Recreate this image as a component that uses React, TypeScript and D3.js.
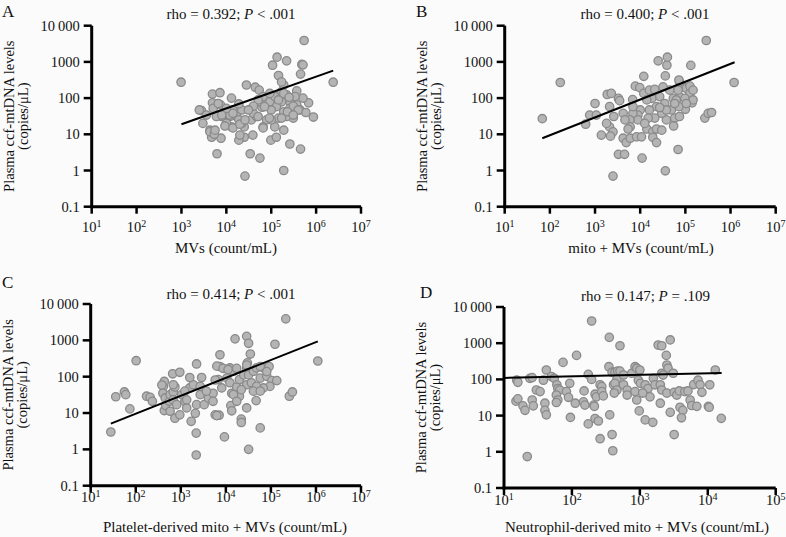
import React from "react";
import * as d3 from "d3";

// ---------- DATA ----------
const yTickValues = [0.1, 1, 10, 100, 1000, 10000];
const yTickLabels = ["0.1", "1", "10", "100", "1000", "10\u2009000"];
const xExponentsWide = [1, 2, 3, 4, 5, 6, 7];
const xExponentsNarrow = [1, 2, 3, 4, 5];

const panelLetters = ["A", "B", "C", "D"];
const titleRhos = ["0.392", "0.400", "0.414", "0.147"];
const titlePs = ["< .001", "< .001", "< .001", "= .109"];
const xAxisTitles = [
  "MVs (count/mL)",
  "mito + MVs (count/mL)",
  "Platelet-derived mito + MVs (count/mL)",
  "Neutrophil-derived mito + MVs (count/mL)",
];
const yAxisTitleLines = ["Plasma ccf-mtDNA levels", "(copies/\u03BCL)"];

// [count/mL, copies/uL]
const mvsPoints = [
  [980, 275], [5.4e5, 3900], [1.35e5, 1350], [2.2e5, 1070], [1.07e5, 810], [4.8e5, 850], [5.1e5, 830], [1.45e5, 420], [4.5e5, 460], [2.4e6, 275],
  [2.8e4, 230], [4.4e4, 200], [5.4e4, 166], [4.9e3, 129], [7.2e3, 141], [1.3e4, 100], [2.8e3, 45], [3.0e3, 20], [4.9e3, 74], [5.1e3, 52],
  [7.4e3, 65], [7.9e3, 31], [6.0e3, 31], [4.3e3, 13], [5.2e3, 9.5], [4.7e3, 8.3], [7.6e3, 7.8], [6.2e3, 2.9], [3.4e4, 2.9], [5.6e4, 2.2],
  [1.9e5, 1.0], [9.8e4, 6.9], [1.3e5, 8.3], [2.6e5, 5.4], [4.5e5, 3.9], [8.7e5, 30], [6.8e5, 74], [5.1e5, 100], [3.7e5, 158], [2.8e5, 100],
  [4.4e5, 47], [5.9e5, 40], [3.1e5, 28], [1.9e5, 13], [1.2e5, 16], [7.9e4, 25], [6.6e4, 16], [3.9e4, 9.5], [2.5e4, 8.3], [1.9e4, 6.9],
  [2.0e4, 9.5], [2.5e4, 16], [3.5e4, 49], [3.6e4, 25], [4.7e4, 31], [6.2e4, 56], [9.3e4, 79], [1.2e5, 110], [1.7e5, 151], [2.2e5, 123],
  [2.6e5, 79], [1.7e5, 79], [1.3e5, 58], [1.0e5, 47], [1.9e5, 42], [2.6e5, 52], [2.2e5, 31], [1.45e5, 28], [1.0e5, 25], [5.6e4, 79],
  [6.6e4, 110], [2.2e4, 47], [1.7e4, 31], [1.2e4, 31], [1.0e4, 47], [1.4e4, 47], [2.2e4, 20], [1.3e4, 16], [1.0e4, 20], [1.9e4, 25],
  [3.7e5, 65], [3.4e5, 110], [9.3e4, 135], [1.9e5, 230], [1.7e5, 280], [2.6e4, 0.7], [4.3e3, 11.7], [5.4e3, 10], [9.3e3, 17], [1.4e4, 15],
  [1.2e4, 34], [2.0e4, 19], [4.0e4, 38], [5.1e4, 31], [6.6e4, 15], [1.45e5, 89], [1.9e5, 135], [2.5e5, 105], [3.1e5, 60], [2.3e5, 42],
  [4.0e5, 47], [3.1e5, 34], [1.7e5, 28], [9.1e4, 28], [7.1e4, 58], [5.1e4, 89], [4.0e4, 60], [3.1e4, 47], [2.6e4, 25], [1.4e4, 38],
  [1.9e4, 69], [1.0e4, 52], [7.9e3, 34], [6.6e3, 71], [3.6e3, 34], [2.5e3, 47], [5.6e3, 13],
];

const mitoPoints = [
  [68, 27], [170, 270], [620, 19], [1000, 71], [760, 34], [1070, 34], [1380, 9.5], [1860, 126], [2290, 135], [3300, 98],
  [3500, 85], [2100, 58], [2600, 31], [2100, 16], [2500, 11.7], [2200, 8.9], [3300, 2.8], [4500, 2.8], [2500, 0.7], [4200, 7.8],
  [4900, 5.9], [11000, 2.2], [6000, 7.8], [8300, 8.5], [10700, 8.5], [6800, 91], [7800, 214], [9800, 195], [12000, 400], [12000, 135],
  [16000, 166], [21000, 174], [25000, 1070], [39000, 810], [40000, 1350], [36000, 410], [2.9e5, 3900], [1.32e5, 800], [1.2e6, 270], [69000, 3.8],
  [36000, 0.98], [1.41e5, 74], [1.0e5, 49], [2.7e5, 28], [3.2e5, 38], [89000, 204], [1.05e5, 186], [74000, 280], [74000, 110], [54000, 98],
  [45000, 166], [32000, 204], [27000, 110], [35000, 71], [49000, 47], [58000, 28], [38000, 25], [30000, 38], [23000, 58], [18000, 98],
  [16000, 47], [14000, 89], [10000, 47], [8900, 34], [8900, 25], [6900, 38], [5900, 25], [6000, 16], [5400, 14], [14000, 14],
  [19000, 11.7], [23000, 14], [30000, 13], [19000, 8.3], [23000, 5.9], [21000, 28], [15000, 28], [12600, 20], [63000, 89], [72000, 58],
  [1.26e5, 135], [98000, 98], [69000, 166], [1.26e5, 214], [1.48e5, 89], [38000, 47], [27000, 55], [55000, 17], [72000, 316], [58000, 71],
  [74000, 31], [1.48e5, 166], [1.05e5, 71], [3.8e5, 40], [4200, 38], [4600, 25], [1800, 20], [6900, 58],
];

const plateletPoints = [
  [28, 3.0], [36, 28], [56, 38], [60, 32], [74, 13], [102, 275], [174, 29], [209, 27], [234, 21], [410, 54],
  [430, 74], [400, 35], [450, 26], [430, 11.7], [460, 16], [560, 21], [580, 32], [680, 38], [660, 120], [950, 132],
  [740, 52], [680, 23], [580, 11.2], [740, 7.2], [950, 8.9], [810, 17], [1050, 32], [1230, 21], [1350, 13.8], [1580, 49],
  [1900, 60], [1700, 5.9], [2200, 2.8], [2200, 0.7], [2240, 224], [2900, 95], [2240, 17], [2700, 32], [3300, 17], [4100, 26],
  [5200, 35], [5800, 8.9], [7100, 8.7], [9300, 2.2], [7400, 190], [6800, 83], [8100, 49], [10500, 91], [12300, 174], [14800, 141],
  [7400, 400], [12300, 68], [13500, 35], [12900, 16], [13500, 11.5], [17400, 52], [20000, 83], [16000, 1100], [29000, 1290], [32000, 830],
  [35000, 420], [30000, 240], [29000, 174], [25000, 112], [32000, 112], [41000, 141], [48000, 174], [68000, 174], [91000, 190], [1.23e5, 780],
  [2.14e5, 3900], [1.1e6, 270], [2.57e5, 29], [3.0e5, 38], [58000, 3.9], [32000, 1.0], [47000, 22], [29000, 13.8], [29000, 60], [37000, 68],
  [58000, 91], [81000, 102], [1.05e5, 78], [1.35e5, 78], [95000, 54], [68000, 49], [48000, 54], [41000, 40], [58000, 40], [20000, 29],
  [22000, 44], [22000, 6.8], [22000, 5.5], [1580, 95], [5800, 81], [6300, 195], [8700, 170], [11200, 158], [17400, 170], [29000, 209],
  [58000, 190], [81000, 138], [6300, 8.5], [2100, 9.8], [380, 59], [680, 60], [1230, 40], [2700, 54], [3700, 40], [5200, 21],
  [14800, 32], [17400, 21], [1350, 23],
];

const neutrophilPoints = [
  [15.4, 95], [16, 83], [15, 25], [16, 29], [19, 18.6], [20.4, 14], [24, 107], [26, 112], [26, 27], [27, 18.6],
  [30, 51], [34, 46], [40, 22], [40, 14], [42, 10.5], [38, 95], [42, 182], [50, 120], [55, 107], [60, 71],
  [62, 56], [66, 51], [59, 37], [62, 27], [59, 23], [74, 295], [83, 46], [89, 32], [93, 78], [95, 8.9],
  [112, 22], [117, 460], [151, 48], [148, 24], [155, 19.5], [174, 138], [195, 100], [195, 4100], [209, 19.5], [214, 18],
  [219, 39], [229, 33], [260, 71], [275, 63], [275, 46], [290, 35], [219, 8.3], [245, 7.1], [260, 2.3], [350, 224],
  [390, 158], [355, 1450], [360, 10.5], [390, 3.0], [430, 158], [470, 170], [460, 102], [410, 71], [430, 78], [460, 51],
  [420, 42], [510, 850], [510, 170], [575, 132], [575, 71], [650, 51], [650, 37], [760, 148], [850, 224], [900, 204],
  [1000, 182], [850, 46], [900, 27], [950, 95], [1020, 78], [1200, 71], [1320, 56], [1410, 33], [1100, 42], [980, 13.5],
  [1200, 7.6], [1550, 6.5], [1580, 107], [1670, 71], [1860, 890], [2100, 850], [2800, 1230], [2450, 460], [2500, 250], [2600, 204],
  [2100, 148], [2200, 132], [2000, 71], [2100, 51], [2500, 42], [3100, 148], [2000, 22], [2800, 12.3], [3200, 3.0], [3200, 44],
  [3500, 37], [3800, 48], [3900, 17], [4300, 14], [4100, 8.7], [4600, 46], [5100, 48], [6200, 72], [7200, 95], [7700, 71],
  [8200, 44], [10700, 71], [5500, 27], [5800, 19], [6900, 18], [10200, 18], [10500, 17], [12900, 182], [15800, 8.4], [22, 0.74],
  [400, 1.07], [174, 5.9],
];

// regression line end points [x, y]
const mvsLine = [[1000, 19], [2.4e6, 575]];
const mitoLine = [[68, 7.8], [1.23e6, 980]];
const plateletLine = [[28, 5.1], [1.1e6, 940]];
const neutrophilLine = [[10, 110], [16000, 150]];

// ---------- LAYOUT ----------
const FONT = "'Liberation Serif', 'Times New Roman', serif";
const BG = "#fbfbfb";

const layouts = [
  { left: 91.7, right: 361, top: 25.7, bottom: 206.7, exps: xExponentsWide, tickDy: 25.5, titleX: 231, titleY: 18.5, letterX: 2, letterY: 16.5, xTitleX: 226, xTitleY: 253 },
  { left: 504.7, right: 775.7, top: 25.7, bottom: 206.7, exps: xExponentsWide, tickDy: 25.5, titleX: 645, titleY: 18.5, letterX: 416, letterY: 16.5, xTitleX: 641, xTitleY: 253 },
  { left: 90.7, right: 361, top: 304, bottom: 485.7, exps: xExponentsWide, tickDy: 16.5, titleX: 231, titleY: 299, letterX: 2, letterY: 288, xTitleX: 225, xTitleY: 532 },
  { left: 504, right: 775.7, top: 307, bottom: 488, exps: xExponentsNarrow, tickDy: 17, titleX: 645.5, titleY: 301, letterX: 420, letterY: 298, xTitleX: 637, xTitleY: 532 },
];

const panelData = [mvsPoints, mitoPoints, plateletPoints, neutrophilPoints];
const panelLines = [mvsLine, mitoLine, plateletLine, neutrophilLine];

function Panel({ i }: { i: number }) {
  const L = layouts[i];
  const exps = L.exps;
  const x = d3
    .scaleLog()
    .domain([Math.pow(10, exps[0]), Math.pow(10, exps[exps.length - 1])])
    .range([L.left, L.right]);
  const y = d3.scaleLog().domain([0.1, 10000]).range([L.bottom, L.top]);
  const line = d3
    .line<number[]>()
    .x((d) => x(d[0]))
    .y((d) => y(d[1]));
  const cy = (L.top + L.bottom) / 2;
  return (
    <g>
      <text x={L.letterX} y={L.letterY} fontSize={17} fontFamily={FONT} fill="#111">
        {panelLetters[i]}
      </text>
      <text x={L.titleX} y={L.titleY} fontSize={15} fontFamily={FONT} textAnchor="middle" fill="#111">
        {`rho = ${titleRhos[i]}; `}
        <tspan fontStyle="italic">P</tspan>
        {` ${titlePs[i]}`}
      </text>
      {/* points */}
      {panelData[i].map((d, k) => (
        <circle key={k} cx={x(d[0])} cy={y(d[1])} r={4.2} fill="#b4b4b4" stroke="#8a8a8a" strokeWidth={1.3} />
      ))}
      <path d={line(panelLines[i]) || ""} stroke="#000" strokeWidth={2} fill="none" />
      {/* axes */}
      <line x1={L.left} x2={L.left} y1={L.top} y2={L.bottom + 1.5} stroke="#000" strokeWidth={3} />
      <line x1={L.left - 1.5} x2={L.right} y1={L.bottom} y2={L.bottom} stroke="#000" strokeWidth={3} />
      {yTickValues.map((v, k) => (
        <g key={k}>
          <line x1={L.left - 8} x2={L.left} y1={y(v)} y2={y(v)} stroke="#000" strokeWidth={2.5} />
          <text x={L.left - 12} y={y(v) + 5} fontSize={14.5} fontFamily={FONT} textAnchor="end" fill="#111">
            {yTickLabels[k]}
          </text>
        </g>
      ))}
      {exps.map((e) => {
        const tx = x(Math.pow(10, e));
        return (
          <g key={e}>
            <line x1={tx} x2={tx} y1={L.bottom} y2={L.bottom + 7} stroke="#000" strokeWidth={2.5} />
            <text x={tx} y={L.bottom + L.tickDy} fontSize={14.5} fontFamily={FONT} textAnchor="middle" fill="#111">
              10
              <tspan dy={-5.5} fontSize={10}>
                {e}
              </tspan>
            </text>
          </g>
        );
      })}
      <text x={L.xTitleX} y={L.xTitleY} fontSize={15} fontFamily={FONT} textAnchor="middle" fill="#111">
        {xAxisTitles[i]}
      </text>
      <text transform={`translate(${L.left - 78},${cy}) rotate(-90)`} fontSize={14.5} fontFamily={FONT} textAnchor="middle" fill="#111">
        {yAxisTitleLines[0]}
      </text>
      <text transform={`translate(${L.left - 64},${cy}) rotate(-90)`} fontSize={14.5} fontFamily={FONT} textAnchor="middle" fill="#111">
        {yAxisTitleLines[1]}
      </text>
    </g>
  );
}

export default function App() {
  return (
    <svg
      width={786}
      height={537}
      style={{ position: "absolute", left: 0, top: 0, background: BG }}
      xmlns="http://www.w3.org/2000/svg"
    >
      <rect x={0} y={0} width={786} height={537} fill={BG} />
      {[0, 1, 2, 3].map((i) => (
        <Panel key={i} i={i} />
      ))}
    </svg>
  );
}
